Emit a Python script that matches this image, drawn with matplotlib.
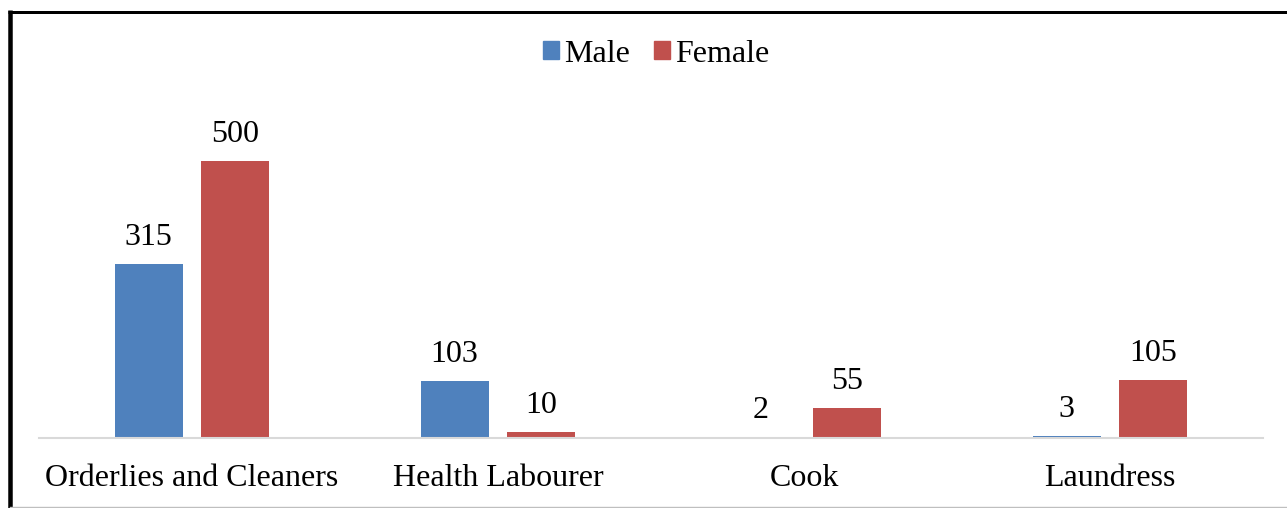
import numpy as np
import matplotlib.pyplot as plt
from matplotlib.lines import Line2D
from matplotlib.patches import Patch

# data
categories = ['Orderlies and Cleaners', 'Health Labourer', 'Cook', 'Laundress']
male = [315, 103, 2, 3]
female = [500, 10, 55, 105]

male_color = '#4F81BD'
female_color = '#C0504D'

plt.rcParams['font.family'] = ['Liberation Serif', 'DejaVu Serif']

W, H = 1287, 508
fig = plt.figure(figsize=(W / 100, H / 100), dpi=100)

# axes placement in pixels: x 39..1263, baseline y=438, y=600 at ~106
ax = fig.add_axes([39 / W, (H - 438) / H, 1224 / W, 332 / H])
x = np.arange(len(categories))
off = 0.142
bw = 0.222
b1 = ax.bar(x - off, male, bw, color=male_color, label='Male')
b2 = ax.bar(x + off, female, bw, color=female_color, label='Female')

for bars in (b1, b2):
    for rect in bars:
        v = rect.get_height()
        ax.annotate(f'{v:g}', (rect.get_x() + rect.get_width() / 2, v),
                    xytext=(0, 12), textcoords='offset pixels',
                    ha='center', va='bottom', fontsize=23)

ax.set_xlim(-0.5, len(categories) - 0.5)
ax.set_ylim(0, 600)
ax.set_yticks([])
ax.set_xticks(x)
ax.set_xticklabels(categories, fontsize=23)
ax.tick_params(axis='x', length=0, pad=19)
for s in ['top', 'right', 'left']:
    ax.spines[s].set_visible(False)
ax.spines['bottom'].set_color('#D9D9D9')
ax.spines['bottom'].set_linewidth(1.5)

handles = [Patch(color=male_color, label='Male'), Patch(color=female_color, label='Female')]
fig.legend(handles=handles, loc='center', bbox_to_anchor=(656 / W, 1 - 54 / H),
           ncol=2, frameon=False, fontsize=23, handlelength=0.5, handleheight=0.5,
           handletextpad=0.16, columnspacing=0.75)

# outer frame (black top/left, thin grey bottom)
fig.add_artist(Line2D([8 / W, 1], [1 - 11.5 / H] * 2, color='black', lw=3 * 0.72,
                      solid_capstyle='butt', transform=fig.transFigure))
fig.add_artist(Line2D([10 / W] * 2, [0, 1 - 10 / H], color='black', lw=4.5 * 0.72,
                      solid_capstyle='butt', transform=fig.transFigure))
fig.add_artist(Line2D([10 / W, 1], [1 - 507 / H] * 2, color='#BFBFBF', lw=1,
                      transform=fig.transFigure))

fig.savefig('out.png', dpi=100)
